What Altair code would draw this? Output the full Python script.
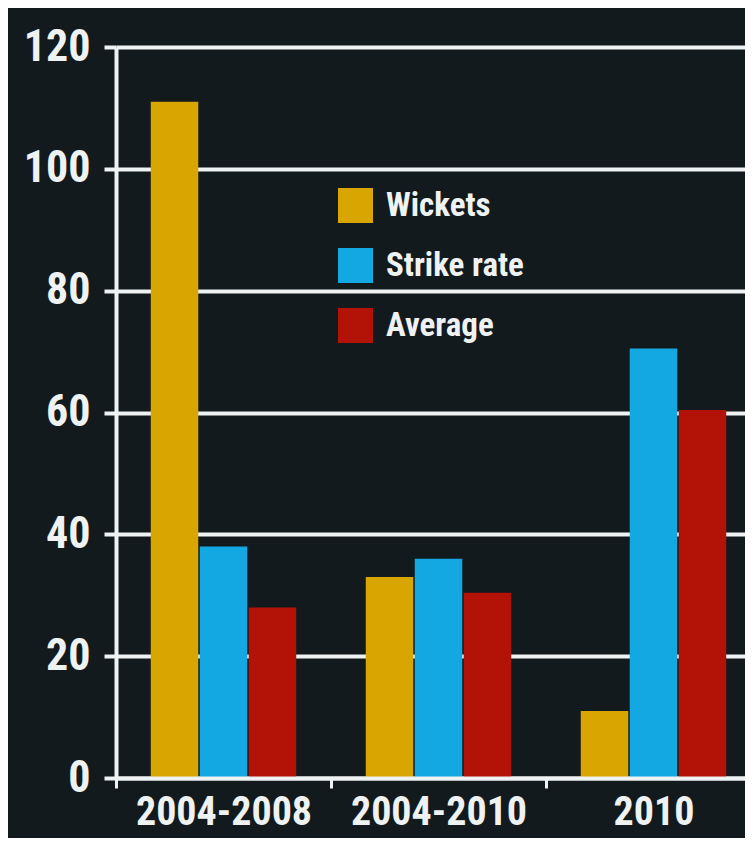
import altair as alt
import pandas as pd

categories = ["2004-2008", "2004-2010", "2010"]
series = ["Wickets", "Strike rate", "Average"]
wickets = [111, 33, 11]
strike_rate = [38, 36, 70.5]
average = [28, 30.4, 60.4]
colors = ["#d9a500", "#13a8e2", "#b31206"]
y_ticks = [0, 20, 40, 60, 80, 100, 120]

rows = []
for i, c in enumerate(categories):
    for s, vals in zip(series, [wickets, strike_rate, average]):
        rows.append({"period": c, "measure": s, "value": vals[i]})
df = pd.DataFrame(rows)

FONT = "Liberation Sans Narrow, Roboto Condensed, DejaVu Sans Condensed, sans-serif"
WHITE = "#eef2f2"

chart = alt.Chart(df).mark_bar().encode(
    x=alt.X(
        "period:N",
        sort=categories,
        scale=alt.Scale(paddingInner=0, paddingOuter=0, range=[0, 645]),
        axis=alt.Axis(
            title=None, labelAngle=0, tickBand="extent", ticks=True, tickSize=10,
            tickWidth=3, domainWidth=4, labelFontSize=40, labelPadding=4,
            labelLimit=0, labelOverlap=False, zindex=1, grid=False,
        ),
    ),
    xOffset=alt.XOffset(
        "measure:N", sort=series,
        scale=alt.Scale(paddingInner=0.03, paddingOuter=0.71),
    ),
    y=alt.Y(
        "value:Q",
        scale=alt.Scale(domain=[0, 120], nice=False),
        axis=alt.Axis(
            values=y_ticks, title=None, grid=True, gridWidth=4, tickSize=12,
            tickWidth=4, domainWidth=4, labelFontSize=44, labelPadding=14,
        ),
    ),
    color=alt.Color(
        "measure:N", sort=series,
        scale=alt.Scale(domain=series, range=colors),
        legend=alt.Legend(
            title=None, orient="none", legendX=222, legendY=141,
            symbolType="square", symbolSize=1225, symbolStrokeWidth=0,
            symbolOpacity=1, labelFontSize=33, labelFont=FONT, labelFontWeight="bold",
            labelColor=WHITE, rowPadding=25, labelOffset=13, padding=0,
        ),
    ),
).properties(
    width=629, height=731,
    autosize=alt.AutoSizeParams(type="none"),
    padding={"left": 108, "top": 39, "right": 0, "bottom": 60},
    background="#131a1e",
).configure_view(stroke=None).configure_axis(
    labelFont=FONT, labelFontWeight="bold", labelColor=WHITE,
    domainColor=WHITE, tickColor=WHITE, gridColor=WHITE,
)

chart.save("out.html", embed_options={"renderer": "svg", "actions": False})
